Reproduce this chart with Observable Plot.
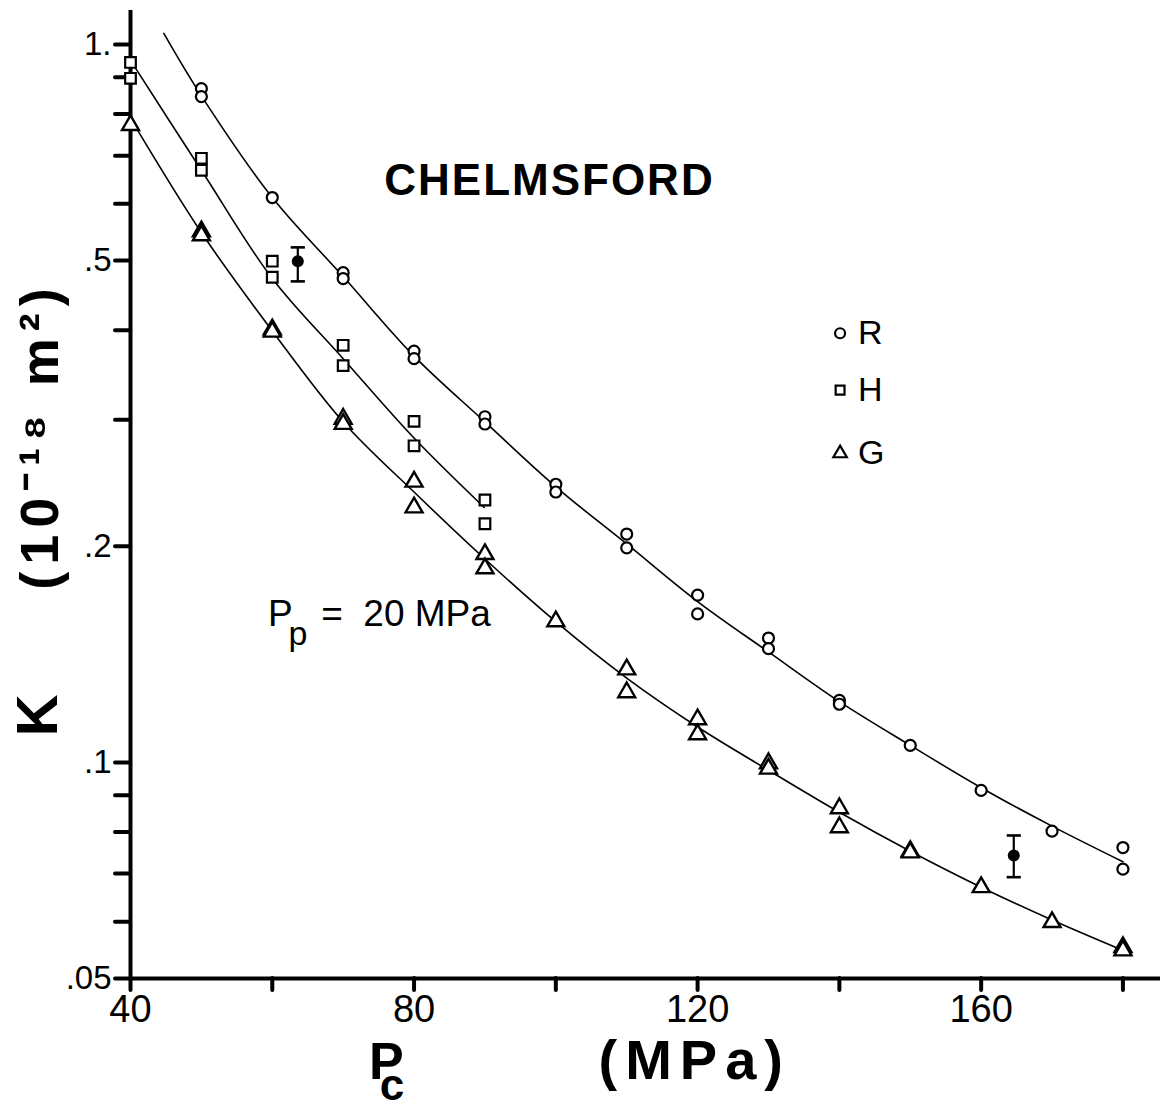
<!DOCTYPE html>
<html><head><meta charset="utf-8">
<script src="https://cdn.jsdelivr.net/npm/d3@7"></script>
<script src="https://cdn.jsdelivr.net/npm/@observablehq/plot@0.6"></script>
<style>body{margin:0;background:#fff} svg{display:block}</style>
</head><body><div id="chart"></div>
<script>
// ---- Data ----
// Measured permeability K (10^-18 m^2) vs confining pressure Pc (MPa)
const rP = [50,50,60,70,70,80,80,90,90,100,100,110,110,120,120,130,130,140,140,150,160,170,180,180];
const rK = [0.868,0.846,0.612,0.481,0.472,0.374,0.365,0.303,0.296,0.244,0.238,0.208,0.199,0.171,0.161,0.149,0.144,0.122,0.1205,0.1056,0.0914,0.0802,0.0761,0.0710];

const hP = [40,40,50,50,60,60,70,70,80,80,90,90];
const hK = [0.944,0.897,0.694,0.668,0.499,0.474,0.381,0.357,0.2985,0.276,0.232,0.215];

const gP = [40,50,50,60,60,70,70,80,80,90,90,100,110,110,120,120,130,130,140,140,150,150,160,170,180,180];
const gK = [0.772,0.549,0.542,0.401,0.398,0.301,0.296,0.246,0.2265,0.195,0.1863,0.1572,0.1347,0.1252,0.1148,0.1094,0.0997,0.098,0.0863,0.0812,0.0752,0.0749,0.067,0.0599,0.0553,0.0547];

// Fitted curves
const rCurveP = [44.7,50,60,70,80,90,100,110,120,130,140,150,160,170,180];
const rCurveK = [1.036,0.848,0.612,0.475,0.368,0.298,0.242,0.2015,0.1675,0.1425,0.1215,0.1056,0.0922,0.0815,0.0727];
const hCurveP = [40,50,60,70,80,89.9];
const hCurveK = [0.95,0.668,0.472,0.365,0.283,0.2265];
const gCurveP = [40,50,60,70,80,90,100,110,120,130,140,150,160,170,180];
const gCurveK = [0.789,0.547,0.399,0.298,0.238,0.192,0.157,0.131,0.112,0.0975,0.0852,0.0752,0.067,0.0603,0.0547];

// Error bars (filled points)
const ebP = [63.6, 164.6];
const ebK = [0.499, 0.0742];
const ebLo = [0.4677, 0.0692];
const ebHi = [0.5216, 0.0791];

// Axis ticks and labels
const xTicks = [40,60,80,100,120,140,160,180];
const xLabels = {40:"40",80:"80",120:"120",160:"160"};
const yTicks = [1,0.9,0.8,0.7,0.6,0.5,0.4,0.3,0.2,0.1,0.09,0.08,0.07,0.06,0.05];
const yLabels = new Map([[1,"1."],[0.5,".5"],[0.2,".2"],[0.1,".1"],[0.05,".05"]]);

// Legend
const legendSym = ["circle","square","triangle"];
const legendText = ["R","H","G"];
const legendP = [140.1, 140.1, 140.1];
const legendK = [0.396, 0.330, 0.2694];

// Annotations
const titleText = "CHELMSFORD";
const titleP = 99.1, titleK = 0.646;
const yTitle = "(10⁻¹⁸ m²)";
const xUnit = "(MPa)";

// ---- Build tables ----
const tbl = (P, K) => P.map((p, i) => ({P: p, K: K[i]}));
const rPts = tbl(rP, rK), hPts = tbl(hP, hK), gPts = tbl(gP, gK);
const rCurve = tbl(rCurveP, rCurveK), hCurve = tbl(hCurveP, hCurveK), gCurve = tbl(gCurveP, gCurveK);
const eb = ebP.map((p, i) => ({P: p, K: ebK[i], lo: ebLo[i], hi: ebHi[i]}));
const legend = legendSym.map((s, i) => ({sym: s, text: legendText[i], P: legendP[i], K: legendK[i]}));

const cap = {draw(ctx, size) { const w = Math.sqrt(size); ctx.moveTo(-w, 0); ctx.lineTo(w, 0); }};
const font = "Liberation Sans, Arial, sans-serif";

const svg = Plot.plot({
  width: 1173,
  height: 1111,
  marginTop: 10,
  marginBottom: 133,
  marginLeft: 130,
  marginRight: 13,
  style: {fontFamily: font, background: "#fff", color: "#000"},
  x: {domain: [40, 185.3]},
  y: {type: "log", domain: [0.05, 1.115]},
  marks: [
    Plot.ruleX([40], {strokeWidth: 4}),
    Plot.ruleY([0.05], {strokeWidth: 4}),
    Plot.axisY(yTicks, {tickSize: 15, tickPadding: 4, strokeWidth: 4, strokeLinecap: "round",
      fontSize: 33, tickFormat: d => yLabels.get(d) ?? "", label: null}),
    Plot.axisX(xTicks, {tickSize: 12, tickPadding: 5, strokeWidth: 4, strokeLinecap: "round",
      fontSize: 38, tickFormat: d => xLabels[d] ?? "", label: null}),
    // fitted curves
    Plot.line(rCurve, {x: "P", y: "K", curve: "catmull-rom", stroke: "#000", strokeWidth: 1.6}),
    Plot.line(hCurve, {x: "P", y: "K", curve: "catmull-rom", stroke: "#000", strokeWidth: 1.6}),
    Plot.line(gCurve, {x: "P", y: "K", curve: "catmull-rom", stroke: "#000", strokeWidth: 1.6}),
    // data points
    Plot.dot(rPts, {x: "P", y: "K", symbol: "circle", r: 5.5, fill: "#fff", stroke: "#000", strokeWidth: 2.2}),
    Plot.dot(hPts, {x: "P", y: "K", symbol: "square", r: 6, fill: "#fff", stroke: "#000", strokeWidth: 2.2}),
    Plot.dot(gPts, {x: "P", y: "K", symbol: "triangle", r: 6.3, fill: "#fff", stroke: "#000", strokeWidth: 2.4}),
    // error bars
    Plot.ruleX(eb, {x: "P", y1: "lo", y2: "hi", stroke: "#000", strokeWidth: 2.2}),
    Plot.dot(eb, {x: "P", y: "lo", symbol: cap, r: 4, stroke: "#000", strokeWidth: 2.6}),
    Plot.dot(eb, {x: "P", y: "hi", symbol: cap, r: 4, stroke: "#000", strokeWidth: 2.6}),
    Plot.dot(eb, {x: "P", y: "K", r: 6, fill: "#000"}),
    // legend
    Plot.dot(legend, {x: "P", y: "K", symbol: "sym", r: 5, fill: "#fff", stroke: "#000", strokeWidth: 2.2}),
    Plot.text(legend, {x: "P", y: "K", text: "text", dx: 18, textAnchor: "start", fontSize: 34, lineAnchor: "middle"}),
    // title annotation
    Plot.text([titleText], {x: () => titleP, y: () => titleK, text: d => d, fontSize: 44, fontWeight: 900}),
    // Pp = 20 MPa
    Plot.text(["P"], {x: () => 59.4, y: () => 0.155, text: d => d, fontSize: 37, textAnchor: "start", lineAnchor: "bottom"}),
    Plot.text(["p"], {x: () => 62.3, y: () => 0.152, text: d => d, fontSize: 34, textAnchor: "start", lineAnchor: "middle", dy: 2}),
    Plot.text(["=  20 MPa"], {x: () => 66.9, y: () => 0.155, text: d => d, fontSize: 37, textAnchor: "start", lineAnchor: "bottom"}),
    // axis titles
    Plot.text(["K"], {x: () => 27.0, y: () => 0.1163, text: d => d, fontSize: 58, fontWeight: 900, rotate: -90}),
    Plot.text([yTitle], {x: () => 27.3, y: () => 0.2853, text: d => d, fontSize: 54, fontWeight: 900, rotate: -90}),
    Plot.text(["P"], {x: () => 76.1, y: () => 0.0382, text: d => d, fontSize: 52, fontWeight: 900}),
    Plot.text(["c"], {x: () => 76.9, y: () => 0.0346, text: d => d, fontSize: 44, fontWeight: 900, dy: -7}),
    Plot.text([xUnit], {x: () => 119.6, y: () => 0.0388, text: d => d, fontSize: 56, fontWeight: 900, dy: 4})
  ]
});
document.getElementById("chart").append(svg);
const spacing = {[titleText]: "2px", [yTitle]: "7px", [xUnit]: "8px"};
d3.select(svg).selectAll("text").each(function() {
  const s = spacing[this.textContent];
  if (s) d3.select(this).attr("letter-spacing", s);
});
</script></body></html>
